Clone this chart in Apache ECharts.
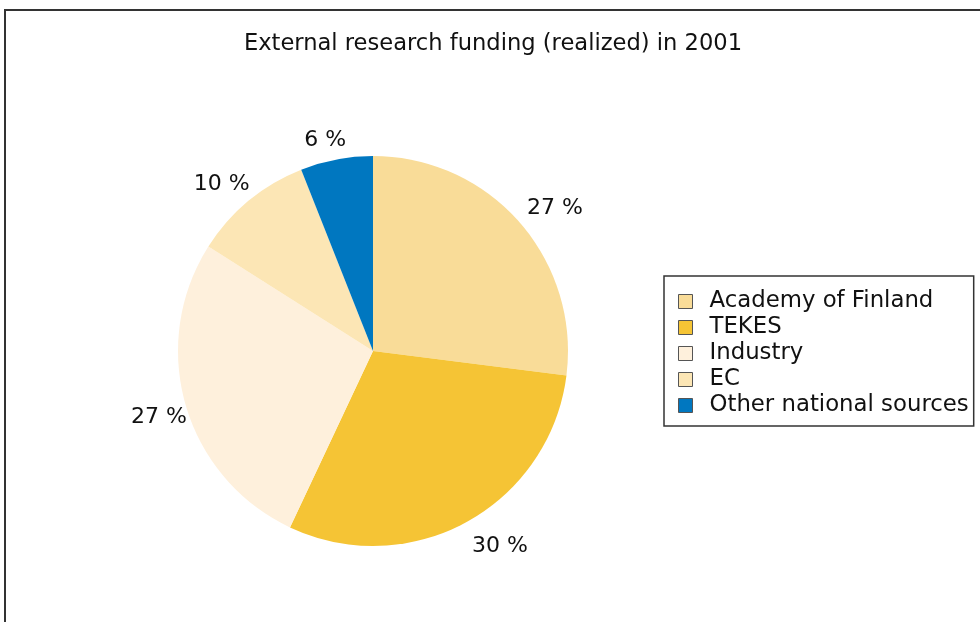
<!DOCTYPE html>
<html>
<head>
<meta charset="utf-8">
<script src="https://cdn.jsdelivr.net/npm/echarts@6/dist/echarts.min.js"></script>
<style>
  html, body { margin: 0; padding: 0; background: #fff; }
  #chart { width: 980px; height: 622px; }
</style>
</head>
<body>
<div id="chart"></div>
<script>
// Funding sources and their shares (%)
const sources = ['Academy of Finland', 'TEKES', 'Industry', 'EC', 'Other national sources'];
const shares = [27, 30, 27, 10, 6];
const colors = ['#F9DC98', '#F5C435', '#FEF0DC', '#FCE6B5', '#0077C0'];
// small nudges of the percentage labels away from the slice mid-angle
const labelNudge = [[11, 8], [17, -5], [5, 3], [-6, 9], [-5, 13]];

const FONT = '"DejaVu Sans", "Noto Sans", sans-serif';
const center = [373, 351];
const radius = 195;

const chart = echarts.init(document.getElementById('chart'));

chart.setOption({
  animation: false,
  title: {
    text: 'External research funding (realized) in 2001',
    left: 488,
    textAlign: 'center',
    top: 28,
    textStyle: { fontFamily: FONT, fontSize: 22.6, fontWeight: 'normal', color: '#111' }
  },
  legend: {
    orient: 'vertical',
    left: 664,
    top: 276,
    padding: [14, 5, 9, 14],
    itemGap: 3,
    itemWidth: 14,
    itemHeight: 14,
    icon: 'rect',
    borderColor: '#333',
    borderWidth: 1.5,
    data: sources,
    itemStyle: { borderColor: '#555', borderWidth: 1 },
    textStyle: { fontFamily: FONT, fontSize: 22.8, color: '#111', padding: [0, 0, 0, 12] },
    selectedMode: false
  },
  graphic: [
    {
      type: 'polyline',
      shape: { points: [[5, 622], [5, 10], [980, 10]] },
      style: { stroke: '#333', lineWidth: 2, fill: null },
      silent: true
    }
  ],
  series: [
    {
      type: 'pie',
      center: center,
      radius: [0, radius],
      startAngle: 90,
      clockwise: true,
      label: { show: false },
      labelLine: { show: false },
      emphasis: { disabled: true },
      data: sources.map((name, i) => ({
        name: name,
        value: shares[i],
        itemStyle: { color: colors[i] }
      }))
    },
    {
      // transparent ring carrying the percentage labels just outside the pie
      type: 'pie',
      center: center,
      radius: [radius + 6, radius + 54],
      startAngle: 90,
      clockwise: true,
      silent: true,
      itemStyle: { color: 'rgba(0,0,0,0)' },
      label: {
        show: true,
        position: 'inside',
        formatter: p => p.value + ' %',
        fontFamily: FONT,
        fontSize: 22,
        color: '#111'
      },
      labelLine: { show: false },
      emphasis: { disabled: true },
      data: sources.map((name, i) => ({
        name: name,
        value: shares[i],
        label: { offset: labelNudge[i] }
      }))
    }
  ]
});
</script>
</body>
</html>
